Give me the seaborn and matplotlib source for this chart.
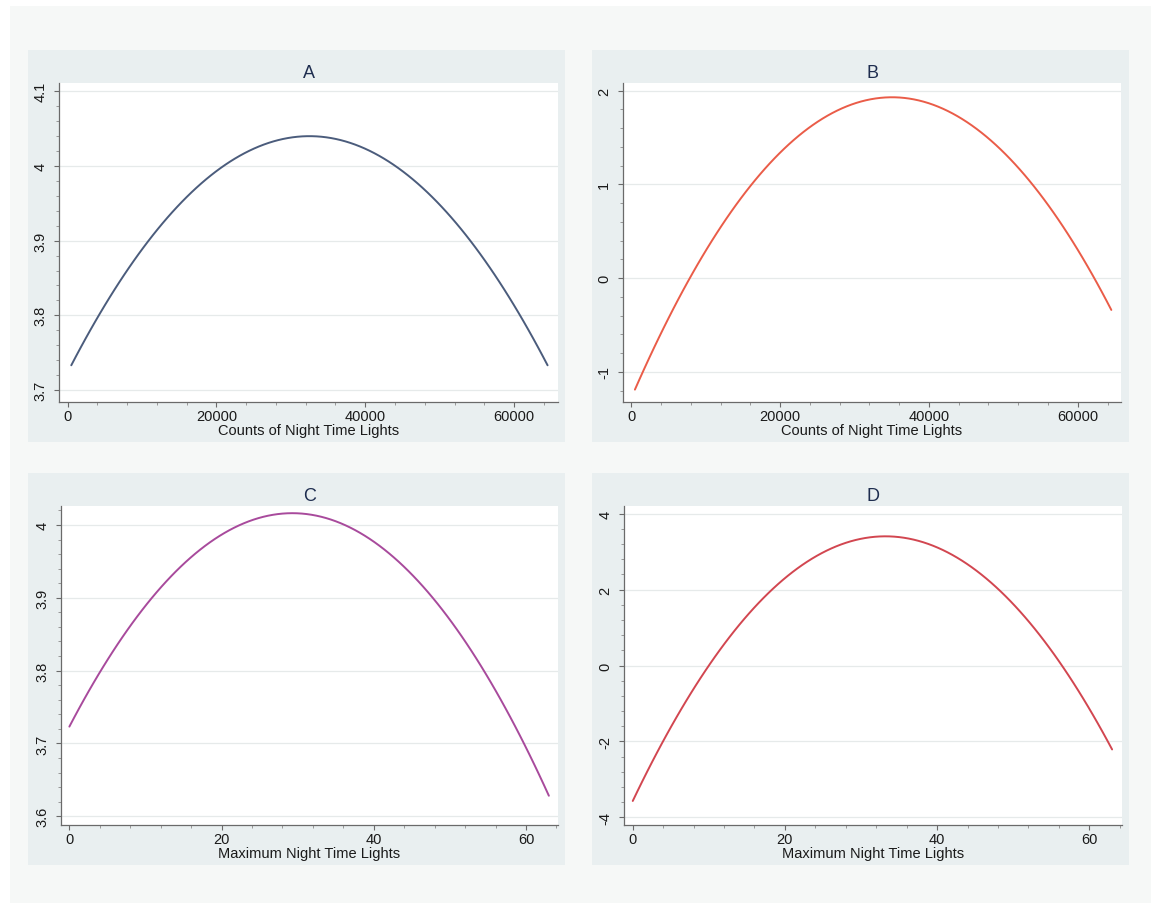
import matplotlib
matplotlib.use("Agg")
import matplotlib.pyplot as plt
from matplotlib.patches import Rectangle
from matplotlib.ticker import MultipleLocator
import seaborn as sns
import pandas as pd

# ---------------- data ----------------
counts_x = [500, 4000, 8000, 12000, 16000, 20000, 24000, 28000, 32000,
            36000, 40000, 44000, 48000, 52000, 56000, 60000, 64500]
a_vals = [3.733, 3.797, 3.860, 3.914, 3.958, 3.993, 4.018, 4.034, 4.040,
          4.036, 4.023, 4.000, 3.968, 3.926, 3.875, 3.813, 3.733]
b_vals = [-1.19, -0.59, 0.02, 0.54, 0.98, 1.34, 1.61, 1.80, 1.91,
          1.93, 1.86, 1.72, 1.49, 1.17, 0.77, 0.29, -0.32]

max_x = [0, 4, 8, 12, 16, 20, 24, 28, 32, 36, 40, 44, 48, 52, 56, 60, 63]
c_vals = [3.723, 3.798, 3.861, 3.914, 3.956, 3.987, 4.006, 4.015, 4.014,
          4.001, 3.977, 3.942, 3.897, 3.840, 3.773, 3.694, 3.628]
d_vals = [-3.57, -1.99, -0.61, 0.56, 1.53, 2.30, 2.87, 3.23, 3.39,
          3.35, 3.11, 2.66, 2.02, 1.17, 0.12, -1.14, -2.21]

titles = ["A", "B", "C", "D"]
xlabels = ["Counts of Night Time Lights", "Counts of Night Time Lights",
           "Maximum Night Time Lights", "Maximum Night Time Lights"]
a_yticks = [3.7, 3.8, 3.9, 4.0, 4.1]
a_yticklabels = ["3.7", "3.8", "3.9", "4", "4.1"]
b_yticks = [-1, 0, 1, 2]
b_yticklabels = ["-1", "0", "1", "2"]
c_yticks = [3.6, 3.7, 3.8, 3.9, 4.0]
c_yticklabels = ["3.6", "3.7", "3.8", "3.9", "4"]
d_yticks = [-4, -2, 0, 2, 4]
d_yticklabels = ["-4", "-2", "0", "2", "4"]
counts_xticks = [0, 20000, 40000, 60000]
max_xticks = [0, 20, 40, 60]

# ---------------- styling ----------------
sns.set_theme(style="white")
plt.rcParams["font.family"] = ["Liberation Sans", "DejaVu Sans"]

W, H = 1151, 904
fig = plt.figure(figsize=(W / 100, H / 100), dpi=100)
fig.patch.set_facecolor("#f6f8f7")

def frect(x0, y0, x1, y1, color, z=0):
    fig.add_artist(Rectangle((x0 / W, 1 - y1 / H), (x1 - x0) / W, (y1 - y0) / H,
                             transform=fig.transFigure, facecolor=color,
                             edgecolor="none", zorder=z))

# thin white margins at top and left
frect(0, 0, W, 7, "white")
frect(0, 0, 10, H, "white")

panel_bg = "#e9eff0"
panels = [(28, 51, 565, 443), (592, 51, 1129, 443),
          (28, 474, 565, 866), (592, 474, 1129, 866)]
for p in panels:
    frect(*p, panel_bg)

axes_px = [(59, 84, 558, 403), (623, 84, 1121, 403),
           (61, 507, 558, 826), (624, 507, 1122, 826)]

specs = [
    dict(x=counts_x, y=a_vals, color="#4b5c7c", yt=a_yticks, ytl=a_yticklabels,
         ylim=(3.684, 4.111), xt=counts_xticks, xlim=(-1150, 65900),
         xminor=4000, yminor=0.02),
    dict(x=counts_x, y=b_vals, color="#ea5c48", yt=b_yticks, ytl=b_yticklabels,
         ylim=(-1.32, 2.08), xt=counts_xticks, xlim=(-1100, 65800),
         xminor=4000, yminor=0.2),
    dict(x=max_x, y=c_vals, color="#a84a9c", yt=c_yticks, ytl=c_yticklabels,
         ylim=(3.588, 4.026), xt=max_xticks, xlim=(-1.1, 64.2),
         xminor=4, yminor=0.02),
    dict(x=max_x, y=d_vals, color="#d24650", yt=d_yticks, ytl=d_yticklabels,
         ylim=(-4.2, 4.2), xt=max_xticks, xlim=(-1.15, 64.3),
         xminor=4, yminor=0.4),
]

for i, (s, (x0, y0, x1, y1)) in enumerate(zip(specs, axes_px)):
    ax = fig.add_axes([x0 / W, 1 - y1 / H, (x1 - x0) / W, (y1 - y0) / H])
    ax.set_facecolor("white")
    df = pd.DataFrame({"x": s["x"], "y": s["y"]})
    # quadratic fit line through the read points (like Stata's qfit)
    sns.regplot(data=df, x="x", y="y", ax=ax, order=2, ci=None, scatter=False,
                truncate=True, color=s["color"], line_kws=dict(linewidth=1.4))
    ax.set_xlim(*s["xlim"])
    ax.set_ylim(*s["ylim"])
    ax.set_xticks(s["xt"])
    ax.set_xticklabels([str(v) for v in s["xt"]])
    ax.set_yticks(s["yt"])
    ax.set_yticklabels(s["ytl"], rotation=90, va="center")
    ax.xaxis.set_minor_locator(MultipleLocator(s["xminor"]))
    ax.yaxis.set_minor_locator(MultipleLocator(s["yminor"]))
    ax.grid(axis="y", which="major", color="#e6eaea", linewidth=0.9)
    ax.grid(axis="x", visible=False)
    for side in ["top", "right"]:
        ax.spines[side].set_visible(False)
    for side in ["left", "bottom"]:
        ax.spines[side].set_color("#6a6a6a")
        ax.spines[side].set_linewidth(0.9)
    ax.tick_params(axis="both", which="major", direction="out", length=3.5,
                   width=0.8, color="#6a6a6a", labelsize=10.5, labelcolor="#1a1a1a")
    ax.tick_params(axis="both", which="minor", direction="out", length=2,
                   width=0.6, color="#8a8a8a")
    ax.tick_params(axis="x", which="major", pad=1.5, bottom=True)
    ax.tick_params(axis="y", which="major", pad=5, left=True)
    ax.tick_params(axis="x", which="minor", bottom=True)
    ax.tick_params(axis="y", which="minor", left=True)
    ax.set_xlabel(xlabels[i], fontsize=10.5, color="#1a1a1a", labelpad=0)
    ax.set_ylabel("")
    ax.set_title(titles[i], fontsize=13, color="#1e2d4f", pad=4)

fig.savefig("out.png", dpi=100, facecolor=fig.get_facecolor())
